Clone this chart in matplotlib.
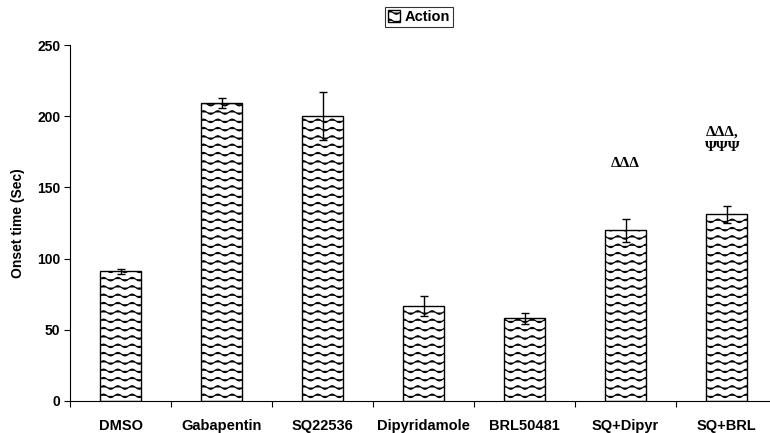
import numpy as np
import matplotlib
matplotlib.use('Agg')
import matplotlib.pyplot as plt
from matplotlib import hatch as mhatch
from matplotlib.path import Path

groups = ['DMSO', 'Gabapentin', 'SQ22536', 'Dipyridamole', 'BRL50481', 'SQ+Dipyr', 'SQ+BRL']
onset = [91, 209, 200, 67, 58, 120, 131]
onset_err = [2, 3.5, 17, 7, 4, 8, 6]
yticks = [0, 50, 100, 150, 200, 250]


# wavy hatch, registered as '~'
class WaveHatch(mhatch.HatchPatternBase):
    npts = 57

    def __init__(self, hatch, density):
        self.num_rows = int(hatch.count('~') * density)
        self.num_vertices = self.num_rows * self.npts

    def set_vertices_and_codes(self, vertices, codes):
        steps, stepsize = np.linspace(0.0, 1.0, self.num_rows, False, retstep=True)
        steps += stepsize / 2.
        xs = np.linspace(0.0, 1.0, self.npts)
        wave = 0.018 * np.sin(2 * np.pi * 7 * xs)
        for i, s in enumerate(steps):
            sl = slice(i * self.npts, (i + 1) * self.npts)
            vertices[sl, 0] = xs
            vertices[sl, 1] = s + wave
            codes[sl] = Path.LINETO
            codes[i * self.npts] = Path.MOVETO


mhatch._hatch_types.append(WaveHatch)

plt.rcParams['font.family'] = ['Liberation Sans', 'DejaVu Sans']
plt.rcParams['font.weight'] = 'bold'
plt.rcParams['hatch.linewidth'] = 0.8
plt.rcParams['hatch.color'] = '#7a7a7a'

fig = plt.figure(figsize=(7.7, 4.33), dpi=100)
W, H = 770., 433.
ax = fig.add_axes([70 / W, (H - 401) / H, (777 - 70) / W, (401 - 45) / H])

x = np.arange(len(groups))
bars = ax.bar(x, onset, width=0.41, color='white', edgecolor='black',
              linewidth=1.0, hatch='~~', label='Action')
ax.errorbar(x, onset, yerr=onset_err, fmt='none', ecolor='black',
            elinewidth=1.0, capsize=3, capthick=1.0)

ax.set_xlim(-0.5, len(groups) - 0.5)
ax.set_ylim(0, 250)
ax.set_yticks(yticks)
ax.set_yticklabels([str(v) for v in yticks], fontsize=10, fontweight='bold')
ax.set_xticks(np.arange(-0.5, len(groups), 1))
ax.set_xticklabels([])
ax.set_xticks(x, minor=True)
ax.set_xticklabels(groups, minor=True, fontsize=10.5, fontweight='bold')
ax.tick_params(axis='x', which='minor', length=0, pad=13)
ax.tick_params(axis='x', which='major', length=4, direction='out', width=0.8)
ax.tick_params(axis='y', length=4, direction='out', width=0.8, pad=3)
ax.spines['top'].set_visible(False)
ax.spines['right'].set_visible(False)
for s in ['left', 'bottom']:
    ax.spines[s].set_linewidth(0.8)
ax.set_ylabel('Onset time (Sec)', fontsize=10, fontweight='bold', labelpad=9)

# significance marks
sig = dict(fontsize=11, fontweight='bold', family=['Liberation Serif', 'DejaVu Serif'])
ax.text(5, 167, '\u0394\u0394\u0394', ha='center', va='center', **sig)
ax.text(6 - 0.21, 189, '\u0394\u0394\u0394,', ha='left', va='center', **sig)
ax.text(6 - 0.21, 178, '\u03a8\u03a8\u03a8', ha='left', va='center', **sig)

leg = fig.legend(handles=[bars], labels=['Action'], loc='center',
                 bbox_to_anchor=(419 / W, 1 - 17 / H), fontsize=10.5,
                 frameon=True, fancybox=False, shadow=False, handlelength=0.8,
                 handleheight=0.8, handletextpad=0.3, borderpad=0.2,
                 borderaxespad=0)
leg.get_frame().set_edgecolor('black')
leg.get_frame().set_linewidth(0.8)

fig.savefig('out.png', dpi=100)
